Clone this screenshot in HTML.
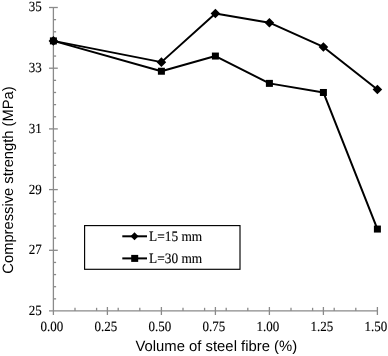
<!DOCTYPE html>
<html><head><meta charset="utf-8"><style>
html,body{margin:0;padding:0;background:#fff;}
body{width:388px;height:356px;overflow:hidden;}
svg{display:block;filter:blur(0.3px);}
</style></head><body>
<svg width="388" height="356" viewBox="0 0 388 356" text-rendering="geometricPrecision">
<rect width="388" height="356" fill="#fff"/>
<g stroke="#8a8a8a" stroke-width="1.3" fill="none">
<line x1="53.4" y1="7.50" x2="53.4" y2="315" />
<line x1="49" y1="310.9" x2="377.40" y2="310.9" />
<line x1="49" y1="250.30" x2="57.8" y2="250.30" />
<line x1="49" y1="189.60" x2="57.8" y2="189.60" />
<line x1="49" y1="128.90" x2="57.8" y2="128.90" />
<line x1="49" y1="68.20" x2="57.8" y2="68.20" />
<line x1="49" y1="7.50" x2="57.8" y2="7.50" />
<line x1="53.4" y1="298.86" x2="56.1" y2="298.86" />
<line x1="53.4" y1="286.72" x2="56.1" y2="286.72" />
<line x1="53.4" y1="274.58" x2="56.1" y2="274.58" />
<line x1="53.4" y1="262.44" x2="56.1" y2="262.44" />
<line x1="53.4" y1="238.16" x2="56.1" y2="238.16" />
<line x1="53.4" y1="226.02" x2="56.1" y2="226.02" />
<line x1="53.4" y1="213.88" x2="56.1" y2="213.88" />
<line x1="53.4" y1="201.74" x2="56.1" y2="201.74" />
<line x1="53.4" y1="177.46" x2="56.1" y2="177.46" />
<line x1="53.4" y1="165.32" x2="56.1" y2="165.32" />
<line x1="53.4" y1="153.18" x2="56.1" y2="153.18" />
<line x1="53.4" y1="141.04" x2="56.1" y2="141.04" />
<line x1="53.4" y1="116.76" x2="56.1" y2="116.76" />
<line x1="53.4" y1="104.62" x2="56.1" y2="104.62" />
<line x1="53.4" y1="92.48" x2="56.1" y2="92.48" />
<line x1="53.4" y1="80.34" x2="56.1" y2="80.34" />
<line x1="53.4" y1="56.06" x2="56.1" y2="56.06" />
<line x1="53.4" y1="43.92" x2="56.1" y2="43.92" />
<line x1="53.4" y1="31.78" x2="56.1" y2="31.78" />
<line x1="53.4" y1="19.64" x2="56.1" y2="19.64" />
<line x1="107.40" y1="307" x2="107.40" y2="315" />
<line x1="161.40" y1="307" x2="161.40" y2="315" />
<line x1="215.40" y1="307" x2="215.40" y2="315" />
<line x1="269.40" y1="307" x2="269.40" y2="315" />
<line x1="323.40" y1="307" x2="323.40" y2="315" />
<line x1="377.40" y1="307" x2="377.40" y2="315" />
<line x1="75.00" y1="307.8" x2="75.00" y2="310.9" />
<line x1="96.60" y1="307.8" x2="96.60" y2="310.9" />
<line x1="118.20" y1="307.8" x2="118.20" y2="310.9" />
<line x1="139.80" y1="307.8" x2="139.80" y2="310.9" />
<line x1="183.00" y1="307.8" x2="183.00" y2="310.9" />
<line x1="204.60" y1="307.8" x2="204.60" y2="310.9" />
<line x1="226.20" y1="307.8" x2="226.20" y2="310.9" />
<line x1="247.80" y1="307.8" x2="247.80" y2="310.9" />
<line x1="291.00" y1="307.8" x2="291.00" y2="310.9" />
<line x1="312.60" y1="307.8" x2="312.60" y2="310.9" />
<line x1="334.20" y1="307.8" x2="334.20" y2="310.9" />
<line x1="355.80" y1="307.8" x2="355.80" y2="310.9" />
</g>
<g fill="none" stroke="#000" stroke-width="2" stroke-linejoin="round">
<polyline points="53.40,40.89 161.40,62.13 215.40,13.57 269.40,22.68 323.40,46.95 377.40,89.45"/>
<polyline points="53.40,40.89 161.40,71.24 215.40,56.06 269.40,83.38 323.40,92.48 377.40,229.06"/>
</g>
<g fill="#000">
<path d="M53.40 36.09L58.20 40.89L53.40 45.69L48.60 40.89Z"/>
<path d="M161.40 57.33L166.20 62.13L161.40 66.93L156.60 62.13Z"/>
<path d="M215.40 8.77L220.20 13.57L215.40 18.37L210.60 13.57Z"/>
<path d="M269.40 17.88L274.20 22.68L269.40 27.48L264.60 22.68Z"/>
<path d="M323.40 42.15L328.20 46.95L323.40 51.75L318.60 46.95Z"/>
<path d="M377.40 84.65L382.20 89.45L377.40 94.25L372.60 89.45Z"/>
<rect x="49.90" y="37.39" width="7.00" height="7.00"/>
<rect x="157.90" y="67.74" width="7.00" height="7.00"/>
<rect x="211.90" y="52.56" width="7.00" height="7.00"/>
<rect x="265.90" y="79.88" width="7.00" height="7.00"/>
<rect x="319.90" y="88.98" width="7.00" height="7.00"/>
<rect x="373.90" y="225.56" width="7.00" height="7.00"/>
</g>
<g font-family='"Liberation Serif", "Times New Roman", serif' font-size="13" fill="#000" stroke="#000" stroke-width="0.12">
<text transform="translate(41.7 314.90) scale(1 1.08)" text-anchor="end">25</text>
<text transform="translate(41.7 254.20) scale(1 1.08)" text-anchor="end">27</text>
<text transform="translate(41.7 193.50) scale(1 1.08)" text-anchor="end">29</text>
<text transform="translate(41.7 132.80) scale(1 1.08)" text-anchor="end">31</text>
<text transform="translate(41.7 72.10) scale(1 1.08)" text-anchor="end">33</text>
<text transform="translate(41.7 11.40) scale(1 1.08)" text-anchor="end">35</text>
<text transform="translate(51.90 331) scale(1 1.08)" text-anchor="middle">0.00</text>
<text transform="translate(105.90 331) scale(1 1.08)" text-anchor="middle">0.25</text>
<text transform="translate(159.90 331) scale(1 1.08)" text-anchor="middle">0.50</text>
<text transform="translate(213.90 331) scale(1 1.08)" text-anchor="middle">0.75</text>
<text transform="translate(267.90 331) scale(1 1.08)" text-anchor="middle">1.00</text>
<text transform="translate(321.90 331) scale(1 1.08)" text-anchor="middle">1.25</text>
<text transform="translate(375.90 331) scale(1 1.08)" text-anchor="middle">1.50</text>
</g>
<rect x="84.6" y="225.6" width="155.4" height="43.7" fill="#fff" stroke="#000" stroke-width="1.15"/>
<g stroke="#000" stroke-width="2">
<line x1="122.3" y1="236.3" x2="147" y2="236.3"/>
<line x1="122.3" y1="258.4" x2="147" y2="258.4"/>
</g>
<g fill="#000">
<path d="M134.50 232.30L138.50 236.30L134.50 240.30L130.50 236.30Z"/>
<rect x="131.20" y="254.90" width="7.00" height="7.00"/>
</g>
<g font-family='"Liberation Serif", "Times New Roman", serif' font-size="13.35" fill="#000" stroke="#000" stroke-width="0.12">
<text transform="translate(149.1 241.2) scale(1 1.08)">L=15 mm</text>
<text transform="translate(149.1 262.9) scale(1 1.08)">L=30 mm</text>
</g>
<g font-family='"Liberation Sans", Arial, sans-serif' font-size="15" fill="#000">
<text x="216.3" y="351" text-anchor="middle" textLength="161.7" lengthAdjust="spacingAndGlyphs">Volume of steel fibre (%)</text>
<text transform="translate(13.3 180) rotate(-90)" text-anchor="middle" textLength="187.3" lengthAdjust="spacingAndGlyphs">Compressive strength (MPa)</text>
</g>
</svg>
</body></html>
